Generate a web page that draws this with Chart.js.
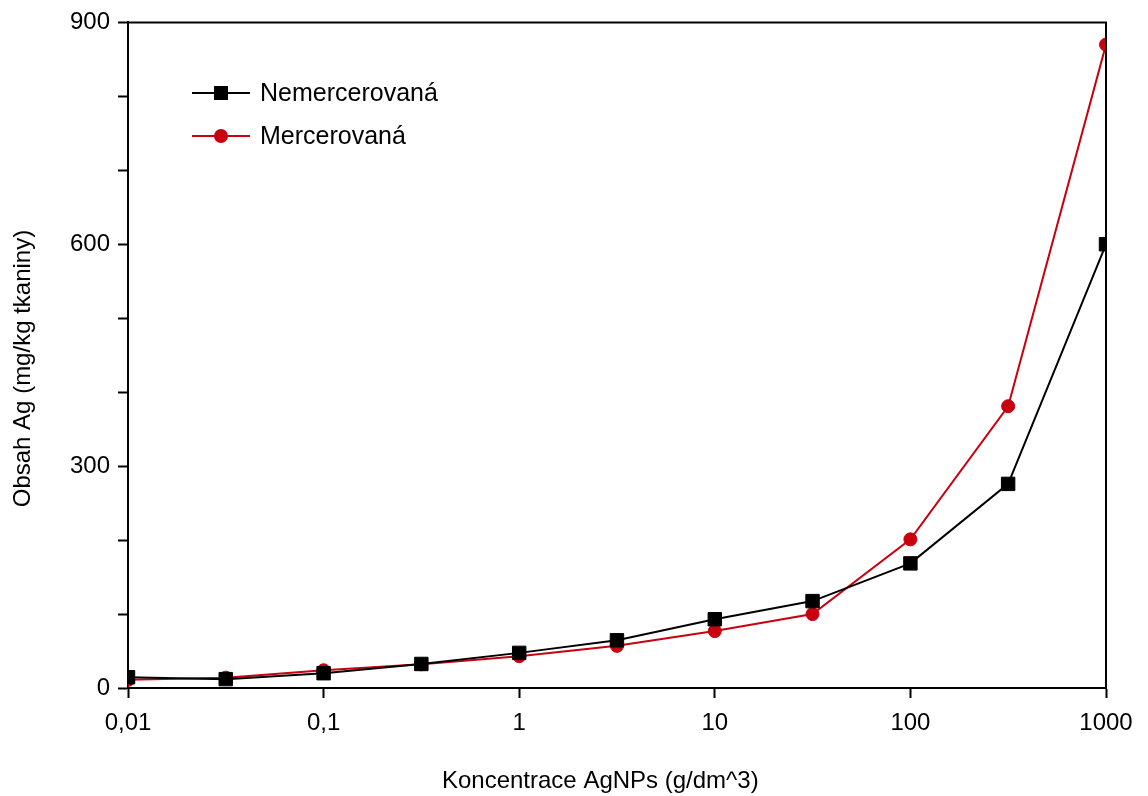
<!DOCTYPE html>
<html>
<head>
<meta charset="utf-8">
<script src="https://cdn.jsdelivr.net/npm/chart.js@4/dist/chart.umd.min.js"></script>
<style>
  html, body { margin: 0; padding: 0; background: #ffffff; }
  #wrap { width: 1148px; height: 796px; position: relative; }
</style>
</head>
<body>
<div id="wrap"><canvas id="c" width="1148" height="796"></canvas></div>
<script>
// ---- data ----
const concentrations = [0.01, 0.0316, 0.1, 0.316, 1, 3.16, 10, 31.6, 100, 316, 1000];
const nemercerovana = [14.5, 12, 20, 32.5, 47.5, 64.5, 93, 117.5, 168.5, 276, 600];
const mercerovana   = [11, 14, 24, 32, 43, 57, 77, 100, 201, 381, 870];
const seriesNames = ['Nemercerovaná', 'Mercerovaná'];
const xTickValues = [0.01, 0.1, 1, 10, 100, 1000];
const xTickLabels = ['0,01', '0,1', '1', '10', '100', '1000'];
const yMajorTicks = [0, 300, 600, 900];
const xTitle = 'Koncentrace AgNPs (g/dm^3)';
const yTitle = 'Obsah Ag (mg/kg tkaniny)';

const FONT = 'Arial, "Liberation Sans", sans-serif';
const RED = '#c8000f';

function pts(ys) { return concentrations.map((x, i) => ({ x: x, y: ys[i] })); }

const frameAndLegend = {
  id: 'frameAndLegend',
  afterDatasetsDraw(chart) {
    const ctx = chart.ctx;
    const a = chart.chartArea;
    ctx.save();
    // top and right frame lines
    ctx.strokeStyle = '#000';
    ctx.lineWidth = 2;
    ctx.beginPath();
    ctx.moveTo(a.left, a.top);
    ctx.lineTo(a.right, a.top);
    ctx.lineTo(a.right, a.bottom);
    ctx.stroke();
    // legend inside plot
    const rows = [93, 136];
    chart.data.datasets.forEach((ds, i) => {
      const y = rows[i];
      ctx.strokeStyle = ds.borderColor;
      ctx.lineWidth = 2;
      ctx.beginPath();
      ctx.moveTo(192, y);
      ctx.lineTo(250, y);
      ctx.stroke();
      ctx.fillStyle = ds.pointBackgroundColor;
      if (ds.pointStyle === 'rect') {
        ctx.fillRect(221 - 7, y - 7, 14, 14);
      } else {
        ctx.beginPath();
        ctx.arc(221, y, 7, 0, Math.PI * 2);
        ctx.fill();
      }
      ctx.fillStyle = '#000';
      ctx.font = '25px ' + FONT;
      ctx.textBaseline = 'middle';
      ctx.textAlign = 'left';
      ctx.fillText(ds.label, 260, y + 1);
    });
    ctx.restore();
  }
};

new Chart(document.getElementById('c'), {
  type: 'line',
  data: {
    datasets: [
      {
        label: seriesNames[0],
        data: pts(nemercerovana),
        borderColor: '#000000',
        backgroundColor: '#000000',
        pointBackgroundColor: '#000000',
        pointBorderColor: '#000000',
        borderWidth: 2,
        pointStyle: 'rect',
        pointRadius: 9.5,
        pointBorderWidth: 1,
        tension: 0
      },
      {
        label: seriesNames[1],
        data: pts(mercerovana),
        borderColor: RED,
        backgroundColor: RED,
        pointBackgroundColor: RED,
        pointBorderColor: RED,
        borderWidth: 2,
        pointStyle: 'circle',
        pointRadius: 6.5,
        pointBorderWidth: 1,
        tension: 0
      }
    ]
  },
  options: {
    responsive: false,
    animation: false,
    devicePixelRatio: 1,
    layout: { padding: { left: 0, right: 42, top: 20, bottom: 0 } },
    plugins: {
      legend: { display: false },
      tooltip: { enabled: false }
    },
    scales: {
      x: {
        type: 'logarithmic',
        min: 0.01,
        max: 1000,
        afterBuildTicks(scale) {
          scale.ticks = xTickValues.map(v => ({ value: v, major: true }));
        },
        afterFit(scale) { scale.height = 108; },
        ticks: {
          autoSkip: false,
          maxRotation: 0,
          minRotation: 0,
          color: '#000',
          font: { size: 24, family: FONT },
          padding: 11,
          callback(value) {
            const i = xTickValues.findIndex(v => Math.abs(v - value) / v < 1e-6);
            return i >= 0 ? xTickLabels[i] : '';
          }
        },
        grid: {
          drawOnChartArea: false,
          drawTicks: true,
          tickLength: 10,
          tickWidth: 2,
          color: '#000'
        },
        border: { display: true, color: '#000', width: 2 },
        title: {
          display: true,
          text: xTitle + '     ',
          color: '#000',
          font: { size: 24, family: FONT },
          padding: { top: 13, bottom: 0 }
        }
      },
      y: {
        type: 'linear',
        min: 0,
        max: 900,
        afterFit(scale) { scale.width = 128; },
        ticks: {
          stepSize: 100,
          color: '#000',
          font: { size: 24, family: FONT },
          padding: 8,
          callback(value) {
            return yMajorTicks.includes(value) ? String(value) : '';
          }
        },
        grid: {
          drawOnChartArea: false,
          drawTicks: true,
          tickLength: 10,
          tickWidth: 2,
          color: '#000'
        },
        border: { display: true, color: '#000', width: 2 },
        title: {
          display: true,
          text: yTitle + '    ',
          color: '#000',
          font: { size: 24, family: FONT },
          padding: { top: 9, bottom: 4 }
        }
      }
    }
  },
  plugins: [frameAndLegend]
});
</script>
</body>
</html>
